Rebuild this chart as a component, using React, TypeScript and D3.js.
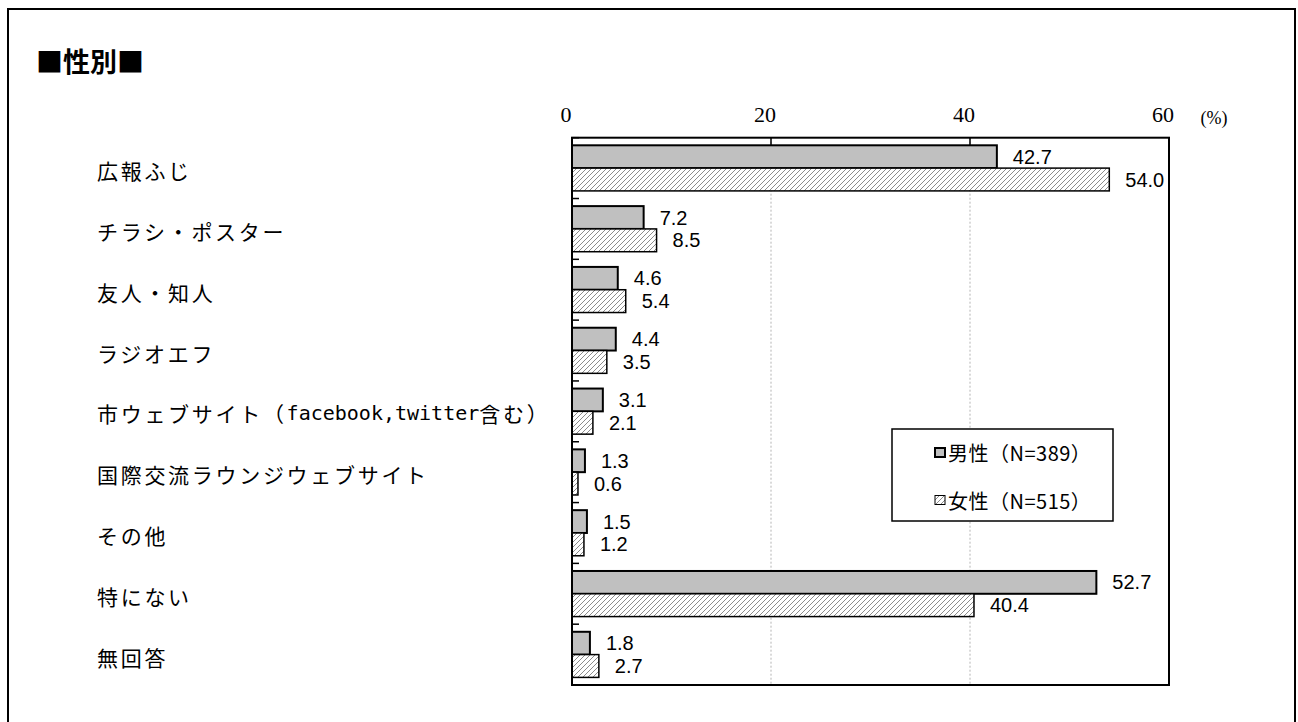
import React, { useEffect, useRef } from 'react';
import * as d3 from 'd3';

// categories (top to bottom)
const categories = [
  '広報ふじ',
  'チラシ・ポスター',
  '友人・知人',
  'ラジオエフ',
  '市ウェブサイト（facebook,twitter含む）',
  '国際交流ラウンジウェブサイト',
  'その他',
  '特にない',
  '無回答',
];
const maleValues = [42.7, 7.2, 4.6, 4.4, 3.1, 1.3, 1.5, 52.7, 1.8];
const femaleValues = [54.0, 8.5, 5.4, 3.5, 2.1, 0.6, 1.2, 40.4, 2.7];
const seriesNames = ['男性（N=389）', '女性（N=515）'];
const xTicks = [0, 20, 40, 60];

const JP = '"Noto Sans CJK JP", "Noto Sans", sans-serif';

export default function App() {
  const ref = useRef<SVGSVGElement>(null);

  useEffect(() => {
    const svg = d3.select(ref.current);
    svg.selectAll('*').remove();

    const left = 572, right = 1169, top = 137.7, bottom = 685;

    const x = d3.scaleLinear().domain([0, 60]).range([left, right]);
    const y = d3.scaleBand<string>()
      .domain(categories)
      .range([top, bottom])
      .paddingInner(0.25)
      .paddingOuter(0.125);
    const sub = d3.scaleBand<string>()
      .domain(['m', 'f'])
      .range([0, y.bandwidth()]);

    // hatch pattern
    const defs = svg.append('defs');
    const pat = defs.append('pattern')
      .attr('id', 'hatch')
      .attr('patternUnits', 'userSpaceOnUse')
      .attr('width', 5)
      .attr('height', 5);
    pat.append('rect').attr('width', 5).attr('height', 5).attr('fill', '#fff');
    pat.append('path')
      .attr('d', 'M0,5 L5,0 M-1,1 L1,-1 M4,6 L6,4')
      .attr('stroke', '#8c8c8c')
      .attr('stroke-width', 1);

    // outer border
    svg.append('rect')
      .attr('x', 8).attr('y', 9)
      .attr('width', 1287).attr('height', 730)
      .attr('fill', 'none').attr('stroke', '#000').attr('stroke-width', 2);

    // title
    svg.append('text')
      .attr('x', 36).attr('y', 60)
      .attr('dominant-baseline', 'central')
      .attr('font-family', JP)
      .attr('font-weight', 'bold')
      .attr('font-size', 27)
      .text('■性別■');

    // grid lines
    svg.selectAll('.grid')
      .data(xTicks.slice(1, -1))
      .enter()
      .append('line')
      .attr('x1', d => x(d)).attr('x2', d => x(d))
      .attr('y1', top).attr('y2', bottom)
      .attr('stroke', '#b4b4b4')
      .attr('stroke-dasharray', '2,2');

    // top tick labels
    svg.selectAll('.xlab')
      .data(xTicks)
      .enter()
      .append('text')
      .attr('x', d => x(d) - 6)
      .attr('y', 122)
      .attr('text-anchor', 'middle')
      .attr('font-family', '"Liberation Serif", serif')
      .attr('font-size', 22)
      .text(d => d);

    svg.append('text')
      .attr('x', 1214).attr('y', 124)
      .attr('text-anchor', 'middle')
      .attr('font-family', '"Liberation Serif", serif')
      .attr('font-size', 18)
      .text('(%)');

    // category labels
    const labels = svg.selectAll('.cat')
      .data(categories)
      .enter()
      .append('text')
      .attr('x', 97)
      .attr('y', d => (y(d) as number) + y.bandwidth() / 2 + 2)
      .attr('dominant-baseline', 'central')
      .attr('font-family', JP)
      .attr('font-size', 21)
      .attr('letter-spacing', 2.7);
    labels.each(function (d) {
      const t = d3.select(this);
      const m = d.match(/^(.*（)([A-Za-z,]+)(.*)$/);
      if (m) {
        t.append('tspan').text(m[1]);
        t.append('tspan')
          .attr('font-family', '"DejaVu Sans Mono", monospace')
          .attr('font-size', 20)
          .attr('letter-spacing', 0)
          .text(m[2]);
        t.append('tspan').text(m[3]);
      } else {
        t.text(d);
      }
    });

    // bars
    const rows = categories.map((c, i) => ({ c, m: maleValues[i], f: femaleValues[i] }));

    svg.selectAll('.barM')
      .data(rows)
      .enter()
      .append('rect')
      .attr('x', left)
      .attr('y', d => (y(d.c) as number) + (sub('m') as number))
      .attr('width', d => x(d.m) - left)
      .attr('height', sub.bandwidth())
      .attr('fill', '#c0c0c0')
      .attr('stroke', '#000')
      .attr('stroke-width', 2);

    svg.selectAll('.barF')
      .data(rows)
      .enter()
      .append('rect')
      .attr('x', left)
      .attr('y', d => (y(d.c) as number) + (sub('f') as number))
      .attr('width', d => x(d.f) - left)
      .attr('height', sub.bandwidth())
      .attr('fill', 'url(#hatch)')
      .attr('stroke', '#000')
      .attr('stroke-width', 1.5);

    // value labels
    const valFont = '"Liberation Sans", Arial, sans-serif';
    svg.selectAll('.valM')
      .data(rows)
      .enter()
      .append('text')
      .attr('x', d => x(d.m) + 16)
      .attr('y', d => (y(d.c) as number) + (sub('m') as number) + sub.bandwidth() / 2)
      .attr('dominant-baseline', 'central')
      .attr('font-family', valFont)
      .attr('font-size', 20)
      .text(d => d.m.toFixed(1));

    svg.selectAll('.valF')
      .data(rows)
      .enter()
      .append('text')
      .attr('x', d => x(d.f) + 16)
      .attr('y', d => (y(d.c) as number) + (sub('f') as number) + sub.bandwidth() / 2)
      .attr('dominant-baseline', 'central')
      .attr('font-family', valFont)
      .attr('font-size', 20)
      .text(d => d.f.toFixed(1));

    // plot frame
    svg.append('rect')
      .attr('x', left).attr('y', top)
      .attr('width', right - left).attr('height', bottom - top)
      .attr('fill', 'none').attr('stroke', '#000').attr('stroke-width', 2);

    // top ticks
    svg.selectAll('.tt')
      .data(xTicks)
      .enter()
      .append('line')
      .attr('x1', d => x(d)).attr('x2', d => x(d))
      .attr('y1', top).attr('y2', top + 8)
      .attr('stroke', '#000').attr('stroke-width', 1.5);

    // left ticks at band boundaries
    const bounds = categories.map(c => (y(c) as number) - y.step() * 0.125).concat([bottom]);
    svg.selectAll('.lt')
      .data(bounds)
      .enter()
      .append('line')
      .attr('x1', left).attr('x2', left + 7)
      .attr('y1', d => d).attr('y2', d => d)
      .attr('stroke', '#000').attr('stroke-width', 1.5);

    // legend
    const lg = svg.append('g');
    lg.append('rect')
      .attr('x', 892).attr('y', 429)
      .attr('width', 221).attr('height', 92)
      .attr('fill', '#fff').attr('stroke', '#000').attr('stroke-width', 1.5);
    const legRows = [
      { name: seriesNames[0], fill: '#c0c0c0', sw: 2, cy: 452.5 },
      { name: seriesNames[1], fill: 'url(#hatch)', sw: 1, cy: 500 },
    ];
    legRows.forEach(r => {
      lg.append('rect')
        .attr('x', 935).attr('y', r.cy - 4.5)
        .attr('width', 10).attr('height', 9)
        .attr('fill', r.fill).attr('stroke', '#000').attr('stroke-width', r.sw);
      lg.append('text')
        .attr('x', 948).attr('y', r.cy)
        .attr('dominant-baseline', 'central')
        .attr('font-family', JP)
        .attr('font-size', 20)
        .attr('letter-spacing', 0.5)
        .text(r.name);
    });
  }, []);

  return (
    <svg
      ref={ref}
      width={1298}
      height={722}
      style={{ position: 'absolute', left: 0, top: 0, background: '#fff' }}
    />
  );
}
